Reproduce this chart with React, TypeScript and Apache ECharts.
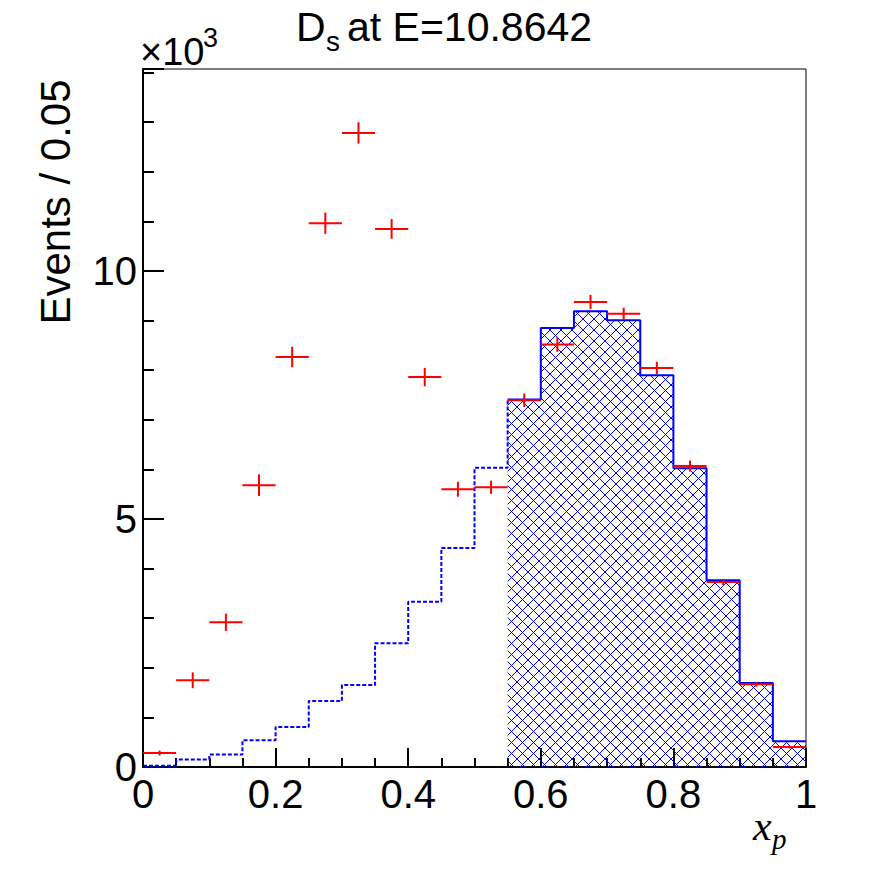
import React, { useEffect, useRef } from "react";
import * as echarts from "echarts";

// ---- data ----
const BIN_WIDTH = 0.05;
const binCenters = [
  0.025, 0.075, 0.125, 0.175, 0.225, 0.275, 0.325, 0.375, 0.425, 0.475,
  0.525, 0.575, 0.625, 0.675, 0.725, 0.775, 0.825, 0.875, 0.925, 0.975,
];
const dataValues = [
  282, 1748, 2917, 5680, 8266, 10962, 12782, 10847, 7860, 5599,
  5639, 7393, 8516, 9375, 9137, 8044, 6066, 3730, 1667, 403,
];
const dataErrors = [
  50, 160, 175, 218, 205, 215, 215, 200, 185, 151,
  134, 134, 148, 141, 121, 124, 111, 60, 50, 30,
];
const mcValues = [
  25, 150, 250, 538, 806, 1331, 1653, 2494, 3330, 4412,
  6030, 7407, 8851, 9187, 9006, 7897, 6020, 3764, 1694, 518,
];
const SPLIT_BIN = 11; // first bin of the solid, hatched part (x = 0.55)
const xTicks = [0, 0.2, 0.4, 0.6, 0.8, 1];
const yTickValues = [0, 5000, 10000];
const Y_MAX = 14070;

function stepPoints(from: number, to: number): number[][] {
  const pts: number[][] = [];
  for (let i = from; i < to; i++) {
    const lo = binCenters[i] - BIN_WIDTH / 2;
    const hi = binCenters[i] + BIN_WIDTH / 2;
    pts.push([+lo.toFixed(4), mcValues[i]]);
    pts.push([+hi.toFixed(4), mcValues[i]]);
  }
  return pts;
}

const hatchSvg =
  '<svg xmlns="http://www.w3.org/2000/svg" width="11" height="11">' +
  '<path d="M-1 -1L12 12M12 -1L-1 12" stroke="#0000ff" stroke-width="1" fill="none"/></svg>';
const hatchUrl = "data:image/svg+xml;charset=utf-8," + encodeURIComponent(hatchSvg);

export default function App() {
  const ref = useRef<HTMLDivElement>(null);
  useEffect(() => {
    if (!ref.current) return;
    const chart = echarts.init(ref.current, undefined, { renderer: "svg" });

    const dashedPts = stepPoints(0, SPLIT_BIN);
    dashedPts.push([+(binCenters[SPLIT_BIN] - BIN_WIDTH / 2).toFixed(4), mcValues[SPLIT_BIN]]);
    const solidPts = stepPoints(SPLIT_BIN, binCenters.length);
    const dataPts = binCenters.map((c, i) => [c, dataValues[i], dataErrors[i]]);

    const font = "Liberation Sans";
    chart.setOption({
      animation: false,
      backgroundColor: "#ffffff",
      grid: {
        left: 143,
        right: 90,
        top: 69,
        bottom: 105,
        show: true,
        borderColor: "#000",
        borderWidth: 1,
        backgroundColor: "transparent",
      },
      xAxis: {
        type: "value",
        min: 0,
        max: 1,
        interval: 0.2,
        axisLine: { show: true, onZero: false, lineStyle: { color: "#000", width: 2 } },
        axisTick: { show: true, inside: true, length: 19, lineStyle: { color: "#000", width: 2 } },
        minorTick: { show: true, splitNumber: 4, length: 9, lineStyle: { color: "#000", width: 2 } },
        splitLine: { show: false },
        minorSplitLine: { show: false },
        axisLabel: {
          fontFamily: font,
          fontSize: 40,
          color: "#000",
          margin: 7,
          formatter: (v: number) => {
            const t = xTicks.find((x) => Math.abs(x - v) < 1e-6);
            return t === undefined ? "" : String(t);
          },
        },
      },
      yAxis: [
        {
          type: "value",
          min: 0,
          max: Y_MAX,
          interval: 5000,
          axisLine: { show: true, onZero: false, lineStyle: { color: "#000", width: 2 } },
          axisTick: { show: true, inside: true, length: 21, lineStyle: { color: "#000", width: 2 } },
          splitLine: { show: false },
          axisLabel: {
            fontFamily: font,
            fontSize: 40,
            color: "#000",
            margin: 6,
            formatter: (v: number) =>
              yTickValues.indexOf(v) >= 0 ? String(v / 1000) : "",
          },
        },
        {
          type: "value",
          position: "left",
          min: 0,
          max: Y_MAX,
          interval: 1000,
          axisLine: { show: false },
          axisTick: { show: true, inside: true, length: 11, lineStyle: { color: "#000", width: 2 } },
          splitLine: { show: false },
          axisLabel: { show: false },
        },
      ],
      series: [
        {
          type: "line",
          data: solidPts,
          symbol: "none",
          lineStyle: { color: "#0000ff", width: 2 },
          areaStyle: {
            opacity: 1,
            color: {
              image: hatchUrl,
              repeat: "repeat",
              imageWidth: 11,
              imageHeight: 11,
            },
          },
          z: 2,
        },
        {
          type: "line",
          data: dashedPts,
          symbol: "none",
          lineStyle: { color: "#0000ff", width: 2, type: [4, 2] },
          z: 3,
        },
        {
          type: "custom",
          data: dataPts,
          z: 4,
          renderItem: (params: any, api: any) => {
            const x = api.value(0);
            const y = api.value(1);
            const e = api.value(2);
            const l = api.coord([x - BIN_WIDTH / 2, y]);
            const r = api.coord([x + BIN_WIDTH / 2, y]);
            const t = api.coord([x, y + e]);
            const b = api.coord([x, y - e]);
            const style = { stroke: "#ff0000", lineWidth: 2 };
            return {
              type: "group",
              children: [
                { type: "line", shape: { x1: l[0], y1: l[1], x2: r[0], y2: r[1] }, style },
                { type: "line", shape: { x1: t[0], y1: t[1], x2: b[0], y2: b[1] }, style },
              ],
            };
          },
        },
      ],
      graphic: [
        {
          type: "text",
          x: 296,
          y: 27,
          style: { text: "D", fontFamily: font, fontSize: 41, fill: "#000", textVerticalAlign: "middle" },
        },
        {
          type: "text",
          x: 326,
          y: 41,
          style: { text: "s", fontFamily: font, fontSize: 28, fill: "#000", textVerticalAlign: "middle" },
        },
        {
          type: "text",
          x: 347,
          y: 27,
          style: { text: "at E=10.8642", fontFamily: font, fontSize: 41, fill: "#000", textVerticalAlign: "middle" },
        },
        {
          type: "text",
          x: 140,
          y: 52,
          style: { text: "×10", fontFamily: font, fontSize: 38, fill: "#000", textVerticalAlign: "middle" },
        },
        {
          type: "text",
          x: 203,
          y: 38,
          style: { text: "3", fontFamily: font, fontSize: 27, fill: "#000", textVerticalAlign: "middle" },
        },
        {
          type: "text",
          x: 55,
          y: 202,
          rotation: Math.PI / 2,
          style: {
            text: "Events / 0.05",
            fontFamily: font,
            fontSize: 42,
            fill: "#000",
            textAlign: "center",
            textVerticalAlign: "middle",
          },
        },
        {
          type: "text",
          x: 753,
          y: 826,
          style: {
            text: "x",
            fontFamily: "Liberation Serif",
            fontStyle: "italic",
            fontSize: 42,
            fill: "#000",
            textVerticalAlign: "middle",
          },
        },
        {
          type: "text",
          x: 772,
          y: 839,
          style: {
            text: "p",
            fontFamily: "Liberation Serif",
            fontStyle: "italic",
            fontSize: 29,
            fill: "#000",
            textVerticalAlign: "middle",
          },
        },
      ],
    });
    return () => chart.dispose();
  }, []);

  return (
    <div
      ref={ref}
      style={{ position: "fixed", left: 0, top: 0, width: 896, height: 872, background: "#fff" }}
    />
  );
}
